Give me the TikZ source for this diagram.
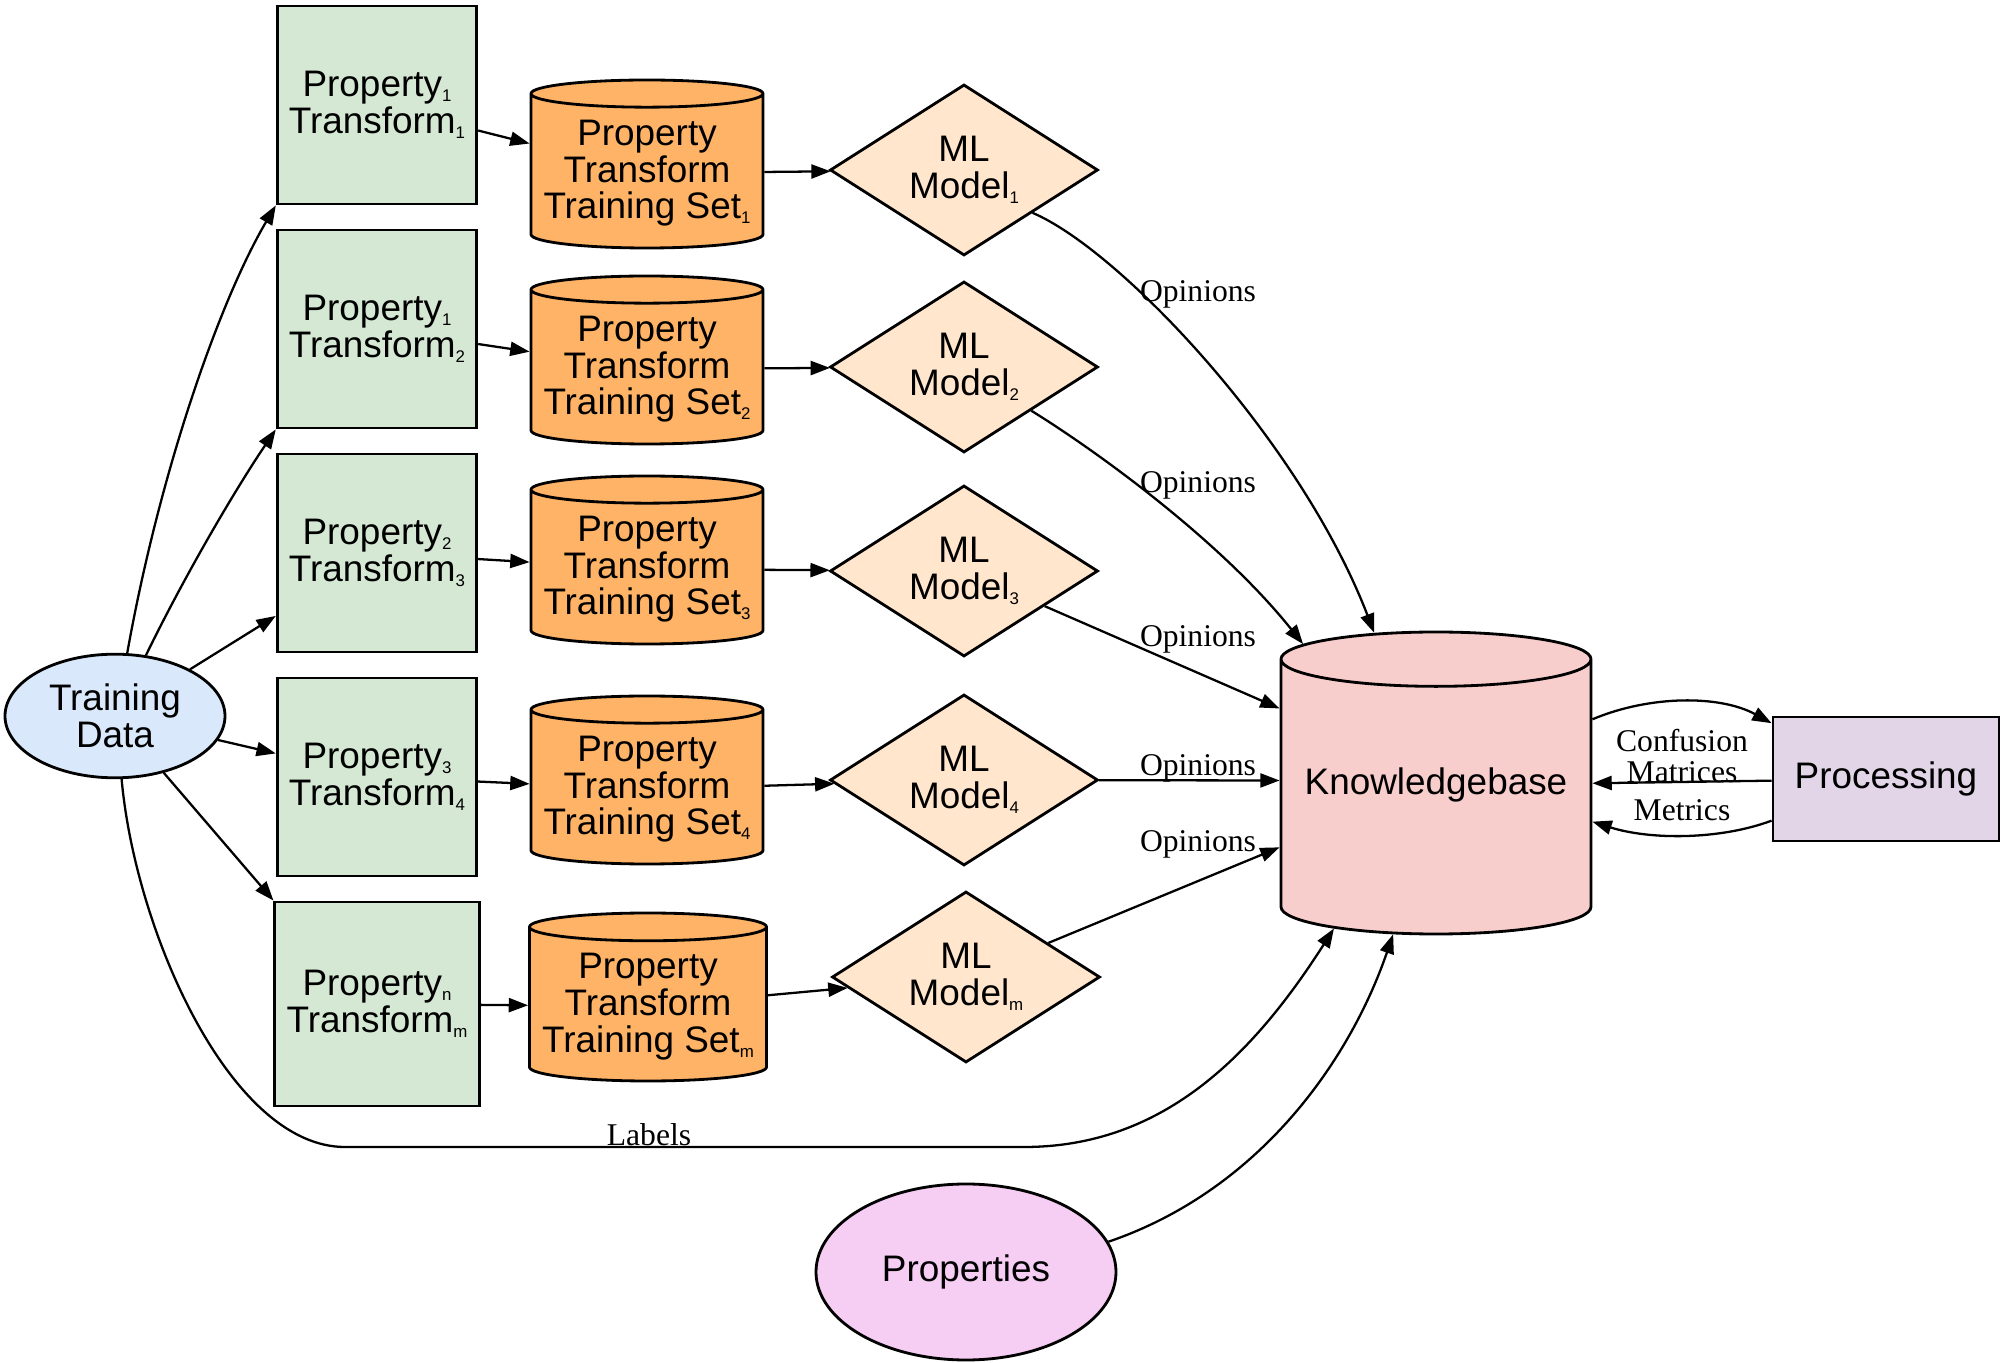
\documentclass[tikz,border=0pt]{standalone}
\usepackage{fontspec}
\setmainfont{Liberation Sans}
\newfontfamily\lblfont{Liberation Serif}
\usetikzlibrary{shapes.geometric,arrows.meta}

\definecolor{tdblue}{HTML}{DAE8FC}
\definecolor{boxgreen}{HTML}{D5E8D4}
\definecolor{setorange}{HTML}{FFB366}
\definecolor{modelpeach}{HTML}{FFE6CC}
\definecolor{kbred}{HTML}{F8CECC}
\definecolor{procpurple}{HTML}{E1D5E7}
\definecolor{proppink}{HTML}{F6CDF3}

\newcommand{\ssub}[1]{\raisebox{-1.4pt}{\fontsize{4.8}{4.8}\selectfont #1}}

\begin{document}
\begin{tikzpicture}[
    every node/.style={font=\fontsize{10.5}{10.5}\selectfont, align=center, line width=.8pt},
    tbox/.style={draw, rectangle, fill=boxgreen, minimum width=1.96cm, minimum height=1.98cm},
    tset/.style={draw, cylinder, shape border rotate=90, aspect=.127, inner sep=1pt, anchor=shape center, fill=setorange, minimum width=2.32cm, minimum height=1.68cm},
    model/.style={draw, diamond, aspect=1.57, fill=modelpeach, minimum width=2.68cm, minimum height=1.71cm, inner sep=0pt},
    lbl/.style={font=\lblfont\fontsize{9}{9}\selectfont, inner sep=0pt},
    edge/.style={-{Triangle[length=5.5pt,width=4pt]}, line width=.65pt}
    ]
    \useasboundingbox (0,0) rectangle (20.02,-13.63);

    \node[draw, ellipse, fill=tdblue, minimum width=2.2cm, minimum height=1.22cm] (td) at (1.15,-7.16) {Training\\Data};

    \node[tbox] (p1) at (3.77,-1.05) {Property\ssub{1}\\Transform\ssub{1}};
    \node[tbox] (p2) at (3.77,-3.29) {Property\ssub{1}\\Transform\ssub{2}};
    \node[tbox] (p3) at (3.77,-5.53) {Property\ssub{2}\\Transform\ssub{3}};
    \node[tbox] (p4) at (3.77,-7.77) {Property\ssub{3}\\Transform\ssub{4}};
    \node[tbox, minimum width=2.04cm, minimum height=2.04cm] (p5) at (3.77,-10.04) {Property\ssub{n}\\Transform\ssub{m}};

    \node[tset] (ts1) at (6.47,-1.64) {Property\\Transform\\Training Set\ssub{1}};
    \node[tset] (ts2) at (6.47,-3.60) {Property\\Transform\\Training Set\ssub{2}};
    \node[tset] (ts3) at (6.47,-5.60) {Property\\Transform\\Training Set\ssub{3}};
    \node[tset] (ts4) at (6.47,-7.80) {Property\\Transform\\Training Set\ssub{4}};
    \node[tset, minimum width=2.37cm] (ts5) at (6.48,-9.97) {Property\\Transform\\Training Set\ssub{m}};

    \node[model] (ml1) at (9.64,-1.70) {ML\\Model\ssub{1}};
    \node[model] (ml2) at (9.64,-3.67) {ML\\Model\ssub{2}};
    \node[model] (ml3) at (9.64,-5.71) {ML\\Model\ssub{3}};
    \node[model] (ml4) at (9.64,-7.80) {ML\\Model\ssub{4}};
    \node[model] (ml5) at (9.66,-9.77) {ML\\Model\ssub{m}};

    \node[draw, cylinder, shape border rotate=90, aspect=.19, anchor=shape center, text height=.27cm, text depth=.43cm, fill=kbred, minimum width=3.1cm, minimum height=3.02cm] (kb) at (14.36,-7.83) {Knowledgebase};
    \node[draw, rectangle, fill=procpurple, minimum width=2.26cm, minimum height=1.24cm] (proc) at (18.86,-7.79) {Processing};
    \node[draw, ellipse, fill=proppink, minimum width=3cm, minimum height=1.76cm] (props) at (9.66,-12.72) {Properties};

    \draw[edge] (td.79) .. controls (1.6,-4.7) and (2.2,-3.0) .. (p1.south west);
    \draw[edge] (td.63) .. controls (1.85,-5.75) and (2.35,-4.9) .. (p2.south west);
    \draw[edge] (td) -- (p3);
    \draw[edge] (td) -- (p4);
    \draw[edge] (td) -- (p5.north west);

    \draw[edge] (p1) -- (ts1);
    \draw[edge] (p2) -- (ts2);
    \draw[edge] (p3) -- (ts3);
    \draw[edge] (p4) -- (ts4);
    \draw[edge] (p5) -- (ts5);

    \draw[edge] (ts1) -- (ml1);
    \draw[edge] (ts2) -- (ml2);
    \draw[edge] (ts3) -- (ml3);
    \draw[edge] (ts4) -- (ml4);
    \draw[edge] (ts5) -- (ml5);

    \draw[edge] (ml1.-32) .. controls (11.2,-2.5) and (13.0,-4.4) .. (kb.110);
    \draw[edge] (ml2.-33) .. controls (10.95,-4.5) and (12.2,-5.4) .. (kb.130);
    \draw[edge] (ml3) -- (kb.149);
    \draw[edge] (ml4) -- (kb.172);
    \draw[edge] (ml5) -- (kb.196);
    \node[lbl] (op1) at (11.98,-2.94) {Opinions};
    \node[lbl] (op2) at (11.98,-4.85) {Opinions};
    \node[lbl] (op3) at (11.98,-6.39) {Opinions};
    \node[lbl] (op4) at (11.98,-7.68) {Opinions};
    \node[lbl] (op5) at (11.98,-8.44) {Opinions};

    \draw[edge] (td.276) .. controls (1.35,-9.3) and (2.3,-11.47) .. (3.45,-11.47) -- (10.24,-11.47) .. controls (11.6,-11.47) and (12.5,-10.6) .. (kb.231);
    \node[lbl] (lab) at (6.49,-11.35) {Labels};

    \draw[edge] (props.12) .. controls (12.6,-11.9) and (13.5,-10.6) .. (kb.252);

    \draw[edge] (kb.28) .. controls (16.5,-6.95) and (17.2,-6.95) .. (proc.154);
    \draw[edge] (proc) -- (kb.7);
    \draw[edge] (proc.200) .. controls (17.2,-8.4) and (16.5,-8.4) .. (kb.-7);
    \node[lbl] (cm) at (16.82,-7.56) {Confusion\\Matrices};
    \node[lbl] (met) at (16.82,-8.10) {Metrics};
\end{tikzpicture}
\end{document}
